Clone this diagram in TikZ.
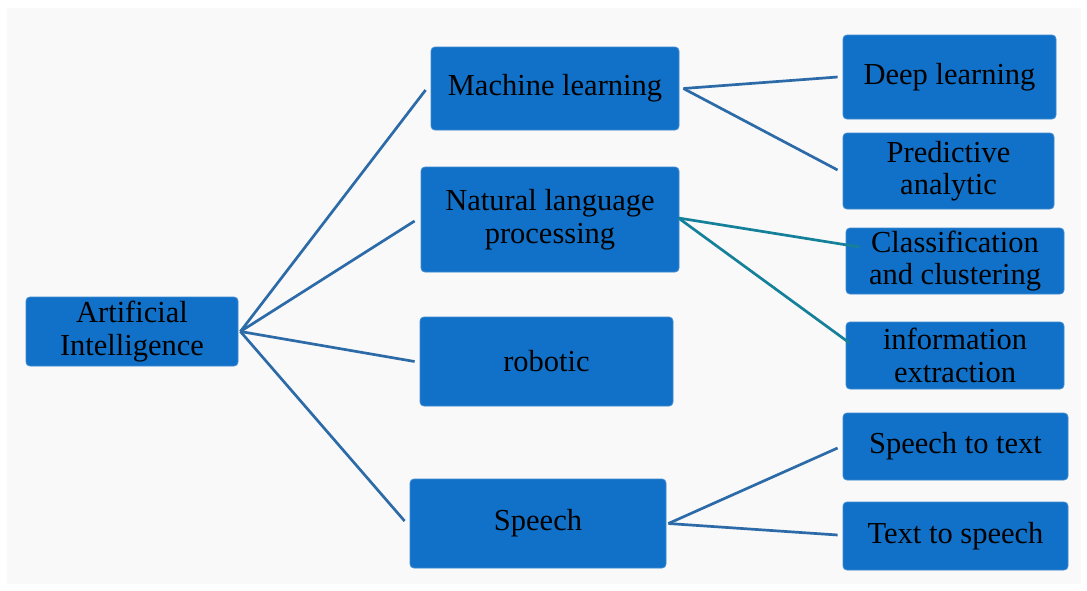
\documentclass[tikz,border=0pt]{standalone}
\usepackage{fontspec}
\setmainfont{Liberation Serif}
\usetikzlibrary{calc}

\definecolor{boxblue}{HTML}{1170C7}
\definecolor{boxedge}{HTML}{3F8AD2}
\definecolor{linkblue}{HTML}{2C6BA8}
\definecolor{linkteal}{HTML}{15809A}
\definecolor{panel}{HTML}{F9F9F9}

\tikzset{
  topic/.style={rectangle, rounded corners=4pt, fill=boxblue, draw=boxedge,
    line width=0.8pt, inner sep=0pt, align=center, text=black,
    font=\fontsize{30.5}{32.5}\selectfont},
  link/.style={draw=linkblue, line width=2.7pt},
  tealink/.style={draw=linkteal, line width=2.7pt},
}

\begin{document}
\begin{tikzpicture}[x=1pt, y=-1pt]
  % page and light panel
  \fill[white] (0,0) rectangle (1087,590);
  \fill[panel] (7,8) rectangle (1081,584);
  \useasboundingbox (0,0) rectangle (1087,590);

  % root
  \node[topic, minimum width=212pt, minimum height=69pt] (ai) at (132,331.5) {Artificial\\Intelligence};

  % first level
  \node[topic, minimum width=248pt, minimum height=83pt] (ml) at (555,88.5) {Machine learning};
  \node[topic, minimum width=258pt, minimum height=105pt] (nlp) at (550,219.5) {Natural language\\processing};
  \node[topic, minimum width=253pt, minimum height=89pt] (rob) at (546.5,361.5) {robotic};
  \node[topic, minimum width=256pt, minimum height=89pt] (sp) at (538,523.5) {Speech};

  % second level
  \node[topic, minimum width=213pt, minimum height=84pt] (dl) at (949.5,77) {Deep learning};
  \node[topic, minimum width=211pt, minimum height=76pt] (pa) at (948.5,171) {Predictive\\analytic};
  \node[topic, minimum width=218pt, minimum height=66pt] (cc) at (955,261) {Classification\\and clustering};
  \node[topic, minimum width=218pt, minimum height=67pt] (ie) at (955,355.5) {information\\extraction};
  \node[topic, minimum width=225pt, minimum height=67pt] (stt) at (955.5,446.5) {Speech to text};
  \node[topic, minimum width=225pt, minimum height=68pt] (tts) at (955.5,536) {Text to speech};

  % root to first level
  \coordinate (aihub) at ($(ai.east)+(2,0)$);
  \draw[link] (aihub) -- ($(ml.west)+(-5,1.5)$);
  \draw[link] (aihub) -- ($(nlp.west)+(-6,1.5)$);
  \draw[link] (aihub) -- ($(rob.west)+(-5,0)$);
  \draw[link] (aihub) -- ($(sp.west)+(-5,-2.5)$);

  % machine learning branches
  \coordinate (mlhub) at ($(ml.east)+(4,0)$);
  \draw[link] (mlhub) -- ($(dl.west)+(-5,0)$);
  \draw[link] (mlhub) -- ($(pa.west)+(-5,-1)$);

  % language processing branches
  \coordinate (nlphub) at ($(nlp.east)+(-1,-1.5)$);
  \draw[tealink] (nlphub) -- ($(cc.west)+(14,-14)$);
  \draw[tealink] (nlphub) -- ($(ie.west)+(4,-12.5)$);

  % speech branches
  \coordinate (sphub) at ($(sp.east)+(2,0)$);
  \draw[link] (sphub) -- ($(stt.west)+(-5,1.5)$);
  \draw[link] (sphub) -- ($(tts.west)+(-5,-1)$);
\end{tikzpicture}
\end{document}
